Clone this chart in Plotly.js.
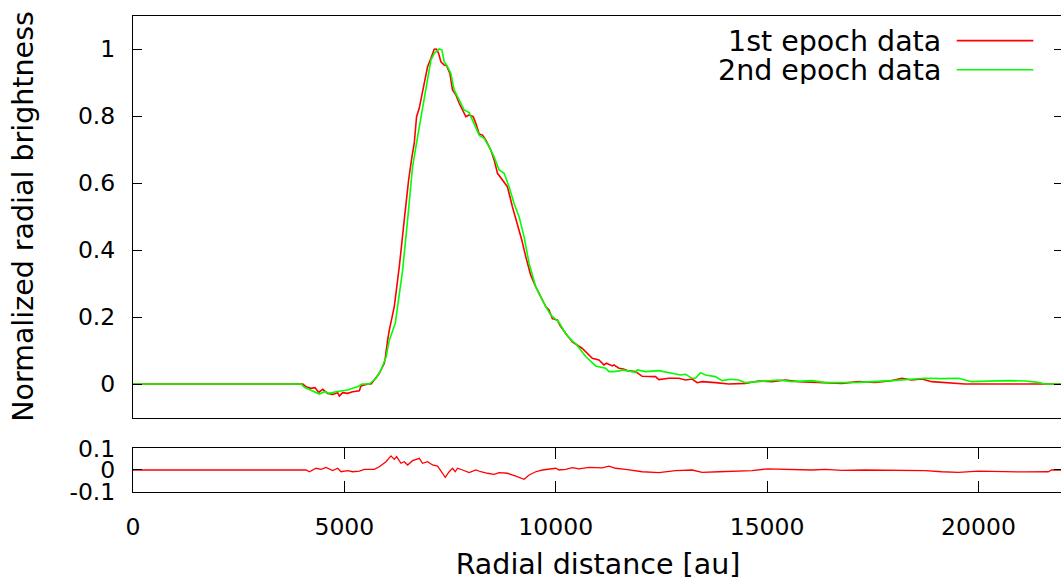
<!DOCTYPE html>
<html>
<head>
<meta charset="utf-8">
<script src="https://cdn.plot.ly/plotly-3.0.1.min.js"></script>
<style>
html, body { margin: 0; padding: 0; overflow: hidden; background: #fff; }
#chart { width: 1064px; height: 581px; }
</style>
</head>
<body>
<div id="chart"></div>
<script>
// ---- Data ----
const epoch1X = [0, 4015, 4094, 4212, 4307, 4393, 4487, 4605, 4724, 4842, 4881, 4960, 5078, 5196, 5354, 5393, 5551, 5630, 5709, 5827, 5945, 5968, 6023, 6063, 6181, 6299, 6417, 6520, 6598, 6653, 6708, 6771, 6850, 6929, 6968, 7048, 7126, 7180, 7228, 7284, 7362, 7417, 7496, 7558, 7638, 7716, 7811, 7874, 7953, 8047, 8110, 8189, 8268, 8347, 8465, 8543, 8622, 8740, 8857, 8975, 9093, 9197, 9291, 9409, 9528, 9646, 9764, 9842, 9921, 10039, 10100, 10236, 10393, 10629, 10786, 10865, 11022, 11140, 11200, 11338, 11377, 11495, 11600, 11692, 11889, 12045, 12361, 12440, 12676, 12833, 12912, 13070, 13227, 13345, 13463, 13778, 14093, 14486, 14801, 15116, 15431, 15746, 16219, 16770, 17163, 17557, 17950, 18187, 18423, 18659, 18896, 19368, 19683, 22000];
const epoch1Y = [0, 0, -0.008, -0.013, -0.011, -0.025, -0.016, -0.028, -0.031, -0.026, -0.036, -0.026, -0.028, -0.023, -0.02, -0.006, 0, 0, 0.012, 0.032, 0.062, 0.077, 0.131, 0.161, 0.231, 0.35, 0.49, 0.609, 0.678, 0.718, 0.798, 0.823, 0.873, 0.922, 0.947, 0.972, 0.999, 1.0, 0.987, 0.962, 0.952, 0.95, 0.927, 0.878, 0.863, 0.838, 0.813, 0.798, 0.803, 0.798, 0.778, 0.746, 0.743, 0.728, 0.698, 0.669, 0.629, 0.609, 0.589, 0.529, 0.48, 0.43, 0.38, 0.325, 0.29, 0.261, 0.231, 0.221, 0.195, 0.191, 0.175, 0.151, 0.126, 0.106, 0.087, 0.077, 0.072, 0.057, 0.062, 0.054, 0.057, 0.047, 0.045, 0.04, 0.037, 0.023, 0.022, 0.013, 0.017, 0.016, 0.017, 0.012, 0.015, 0.004, 0.007, 0.004, 0, 0.002, 0.009, 0.007, 0.012, 0.007, 0.005, 0.002, 0.007, 0.005, 0.01, 0.017, 0.012, 0.015, 0.007, 0.002, 0, 0];

const epoch2X = [0, 3976, 4055, 4173, 4291, 4409, 4527, 4645, 4802, 4960, 5078, 5196, 5314, 5417, 5590, 5749, 5866, 5985, 6063, 6205, 6378, 6496, 6614, 6732, 6850, 6968, 7048, 7126, 7180, 7244, 7307, 7362, 7440, 7519, 7598, 7716, 7834, 7953, 8071, 8189, 8307, 8425, 8543, 8661, 8779, 8897, 9015, 9133, 9251, 9370, 9528, 9646, 9764, 9882, 10078, 10236, 10393, 10472, 10708, 10944, 11180, 11259, 11377, 11535, 11574, 11810, 11889, 11928, 12125, 12440, 12716, 12952, 13070, 13227, 13306, 13424, 13542, 13778, 13935, 14132, 14329, 14486, 14801, 15273, 15588, 16061, 16376, 17163, 17950, 18344, 18738, 19132, 19525, 19840, 20312, 20706, 21100, 21415, 21572, 22000];
const epoch2Y = [0, 0, -0.01, -0.016, -0.023, -0.03, -0.023, -0.028, -0.023, -0.02, -0.018, -0.013, -0.008, 0, 0, 0.017, 0.042, 0.08, 0.131, 0.181, 0.34, 0.49, 0.649, 0.738, 0.823, 0.907, 0.967, 0.987, 0.992, 1.0, 0.997, 0.962, 0.947, 0.927, 0.878, 0.848, 0.818, 0.81, 0.778, 0.743, 0.733, 0.708, 0.678, 0.639, 0.629, 0.589, 0.539, 0.499, 0.44, 0.36, 0.29, 0.258, 0.231, 0.206, 0.184, 0.15, 0.128, 0.121, 0.082, 0.054, 0.047, 0.037, 0.037, 0.04, 0.042, 0.037, 0.034, 0.042, 0.037, 0.04, 0.032, 0.027, 0.029, 0.017, 0.017, 0.034, 0.027, 0.022, 0.01, 0.014, 0.012, 0.004, 0.007, 0.012, 0.007, 0.01, 0.004, 0.005, 0.01, 0.014, 0.017, 0.016, 0.017, 0.007, 0.009, 0.01, 0.009, 0.005, 0, 0];

const residX = [0, 4094, 4173, 4330, 4448, 4566, 4724, 4842, 4921, 5078, 5196, 5354, 5472, 5708, 5827, 5984, 6102, 6181, 6236, 6339, 6417, 6496, 6614, 6693, 6772, 6850, 6968, 7086, 7205, 7323, 7386, 7480, 7559, 7622, 7677, 7795, 7953, 8110, 8228, 8386, 8543, 8661, 8858, 9055, 9252, 9370, 9528, 9685, 9842, 10000, 10078, 10236, 10393, 10551, 10787, 10944, 11100, 11259, 11416, 11652, 12046, 12440, 12833, 13227, 13463, 13857, 14250, 14644, 14998, 15589, 16061, 16376, 16770, 17321, 17951, 18345, 18739, 19132, 19526, 20000, 20470, 21100, 21651, 21730, 22000];
const residY = [0, 0, -0.008, 0.008, 0.003, 0.012, -0.003, 0.008, -0.008, -0.003, -0.008, -0.005, 0.003, 0.003, 0.015, 0.038, 0.065, 0.049, 0.062, 0.031, 0.038, 0.023, 0.043, 0.049, 0.054, 0.031, 0.038, 0.023, 0.018, -0.015, -0.034, -0.008, 0.008, -0.008, 0.008, 0, -0.012, 0, -0.008, -0.015, -0.02, -0.012, -0.015, -0.028, -0.043, -0.023, -0.008, 0, 0.003, 0.008, 0, 0.003, 0.011, 0.005, 0.012, 0.012, 0.01, 0.018, 0.008, 0.003, -0.008, -0.012, -0.003, 0, -0.011, -0.008, -0.005, -0.003, 0.005, 0.003, 0, 0.003, -0.002, 0, 0, 0, -0.003, -0.008, -0.011, -0.005, -0.008, -0.009, -0.008, 0, 0];

const seriesNames = ['1st epoch data', '2nd epoch data'];
const mainTickVals = [0, 0.2, 0.4, 0.6, 0.8, 1];
const mainTickText = ['0', '0.2', '0.4', '0.6', '0.8', '1'];
const residTickVals = [-0.1, 0, 0.1];
const residTickText = ['-0.1', '0', '0.1'];
const xTickVals = [0, 5000, 10000, 15000, 20000];
const xTickText = ['0', '5000', '10000', '15000', '20000'];

// ---- Styling ----
const FONT = 'DejaVu Sans';
const RED = '#ff0000';
const GREEN = '#00ff00';
const TICKFONT = {family: FONT, size: 23.5, color: '#000'};
const TITLEFONT = {family: FONT, size: 28.5, color: '#000'};

const traces = [
  {x: epoch1X, y: epoch1Y, xaxis: 'x', yaxis: 'y', mode: 'lines', name: seriesNames[0],
   line: {color: RED, width: 1.6}, showlegend: false},
  {x: epoch2X, y: epoch2Y, xaxis: 'x', yaxis: 'y', mode: 'lines', name: seriesNames[1],
   line: {color: GREEN, width: 1.6}, showlegend: false},
  {x: residX, y: residY, xaxis: 'x2', yaxis: 'y2', mode: 'lines', name: 'residual',
   line: {color: RED, width: 1.3}, showlegend: false}
];

const axisCommon = {
  showgrid: false, zeroline: false, showline: true, linecolor: '#000', linewidth: 1,
  tickcolor: '#000', tickwidth: 1, tickfont: TICKFONT
};

const legendY = [0.930, 0.880];
const legendColors = [RED, GREEN];

const layout = {
  width: 1064, height: 581,
  margin: {l: 133, r: 1, t: 0, b: 0},
  paper_bgcolor: '#fff', plot_bgcolor: '#fff',
  font: {family: FONT, color: '#000'},
  showlegend: false,
  xaxis: Object.assign({}, axisCommon, {
    domain: [0, 1], anchor: 'y', range: [0, 22000], ticks: '', showticklabels: false, mirror: true
  }),
  yaxis: Object.assign({}, axisCommon, {
    domain: [0.2814, 0.9733], anchor: 'x', range: [-0.1, 1.1],
    ticks: 'inside', ticklen: 9, mirror: 'ticks',
    tickmode: 'array', tickvals: mainTickVals, ticktext: mainTickText,
    ticklabelstandoff: 12,
    title: {text: 'Normalized radial brightness', font: TITLEFONT, standoff: 35}
  }),
  xaxis2: Object.assign({}, axisCommon, {
    domain: [0, 1], anchor: 'y2', range: [0, 22000], matches: 'x',
    ticks: 'inside', ticklen: 11, mirror: 'ticks',
    tickmode: 'array', tickvals: xTickVals, ticktext: xTickText,
    ticklabelstandoff: 14,
    title: {text: 'Radial distance [au]', font: TITLEFONT, standoff: 14}
  }),
  yaxis2: Object.assign({}, axisCommon, {
    domain: [0.1537, 0.2284], anchor: 'x2', range: [-0.1, 0.1],
    ticks: 'inside', ticklen: 9, mirror: 'ticks',
    tickmode: 'array', tickvals: residTickVals, ticktext: residTickText,
    ticklabelstandoff: 12
  }),
  annotations: seriesNames.map((n, i) => ({
    xref: 'paper', yref: 'paper', x: 0.8705, y: legendY[i],
    xanchor: 'right', yanchor: 'middle', showarrow: false,
    height: 28, valign: 'middle',
    text: n, font: TITLEFONT
  })),
  shapes: seriesNames.map((n, i) => ({
    type: 'line', xref: 'paper', yref: 'paper',
    x0: 0.8857, x1: 0.9681, y0: legendY[i], y1: legendY[i],
    line: {color: legendColors[i], width: 1.6}
  }))
};

Plotly.newPlot('chart', traces, layout, {displayModeBar: false, staticPlot: true});
</script>
</body>
</html>
